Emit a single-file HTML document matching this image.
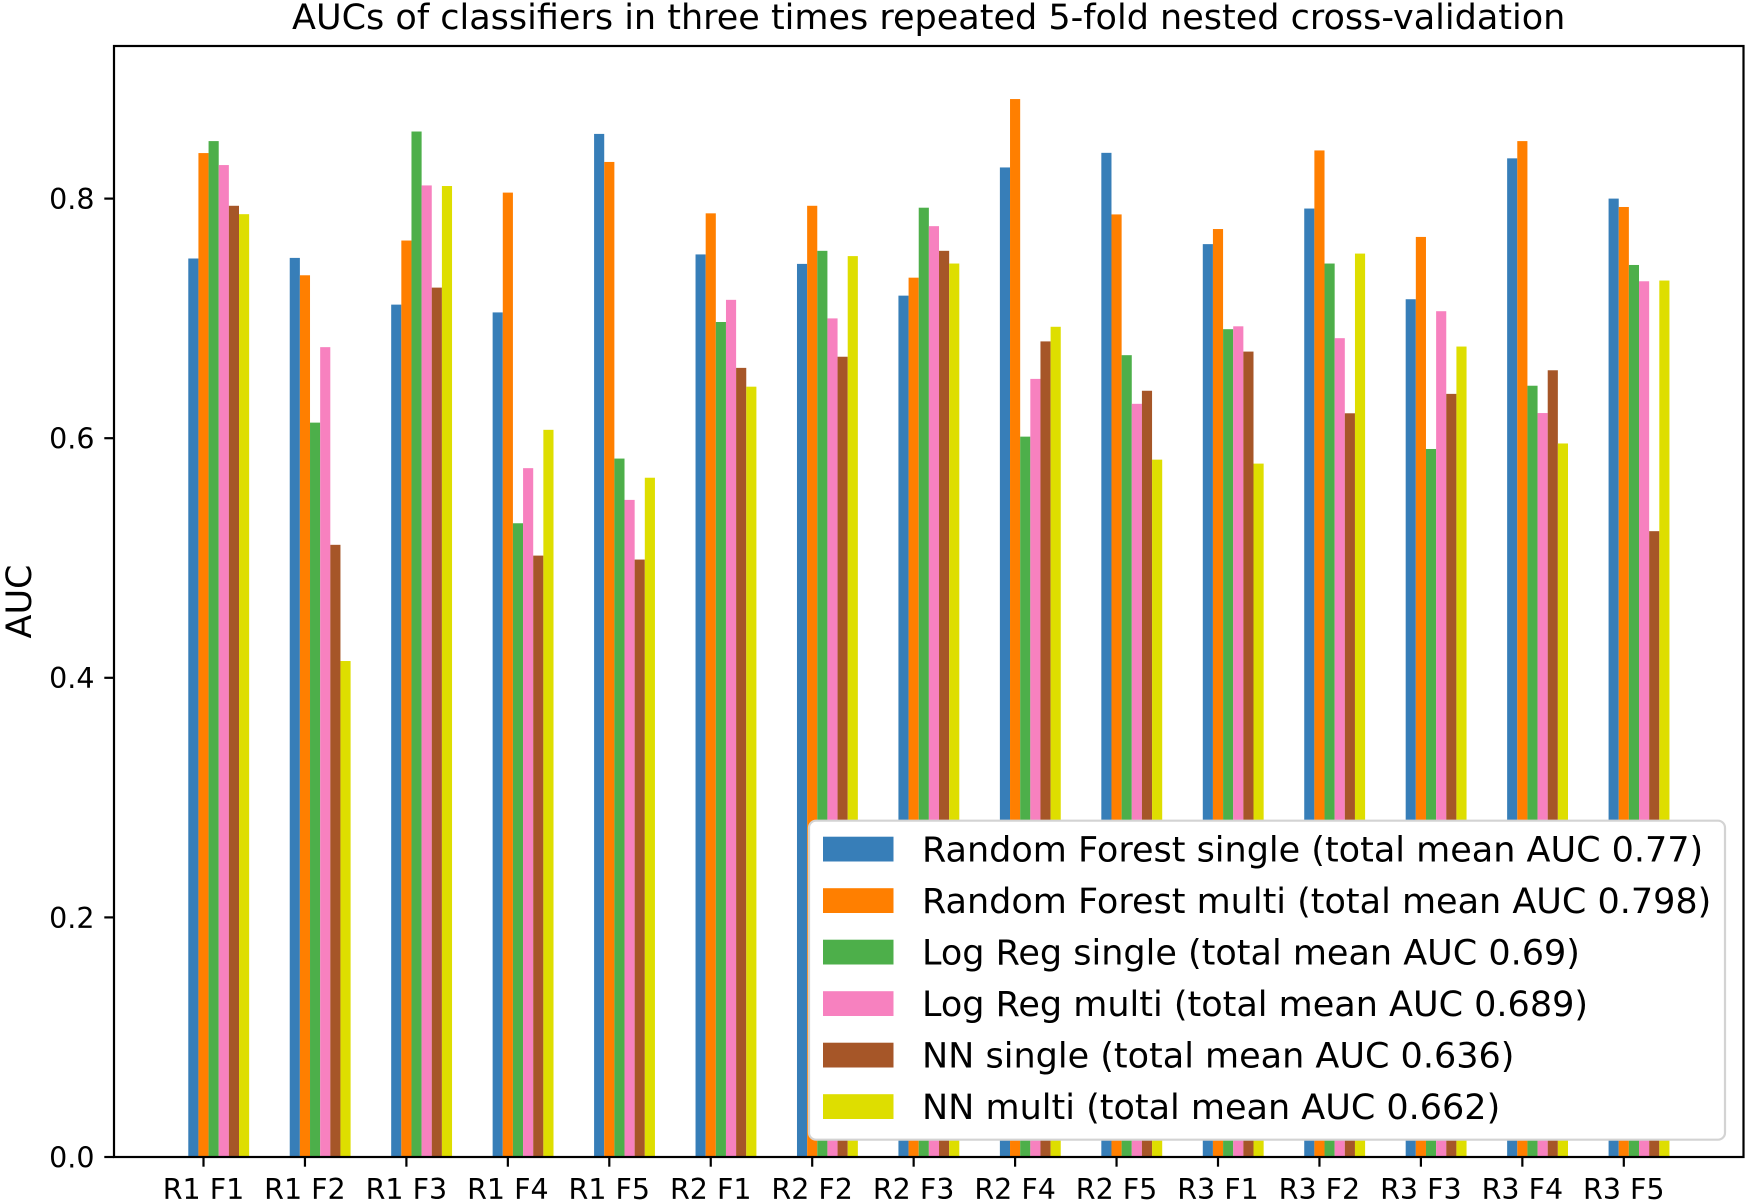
<!DOCTYPE html>
<html>
<head>
<meta charset="utf-8">
<style>
  html, body { margin: 0; padding: 0; background: #ffffff; }
  svg { display: block; }
  text { font-family: "DejaVu Sans", "Liberation Sans", sans-serif; fill: #000; }
</style>
</head>
<body>
<svg width="1748" height="1204" viewBox="0 0 1748 1204" xmlns="http://www.w3.org/2000/svg">
  <rect x="0" y="0" width="1748" height="1204" fill="#ffffff"/>

  <!-- Title -->
  <text x="928.7" y="29" font-size="35" text-anchor="middle">AUCs of classifiers in three times repeated 5-fold nested cross-validation</text>

  <!-- Bars: data coordinates (x = group index, y = AUC) -->
  <g transform="translate(203.5,1157) scale(101.45,-1198)">
    <g fill="#377eb8">
      <rect x="-0.15" y="0" width="0.1" height="0.750"/>
      <rect x="0.85" y="0" width="0.1" height="0.7505"/>
      <rect x="1.85" y="0" width="0.1" height="0.7115"/>
      <rect x="2.85" y="0" width="0.1" height="0.705"/>
      <rect x="3.85" y="0" width="0.1" height="0.854"/>
      <rect x="4.85" y="0" width="0.1" height="0.7534"/>
      <rect x="5.85" y="0" width="0.1" height="0.7455"/>
      <rect x="6.85" y="0" width="0.1" height="0.719"/>
      <rect x="7.85" y="0" width="0.1" height="0.826"/>
      <rect x="8.85" y="0" width="0.1" height="0.8382"/>
      <rect x="9.85" y="0" width="0.1" height="0.762"/>
      <rect x="10.85" y="0" width="0.1" height="0.7917"/>
      <rect x="11.85" y="0" width="0.1" height="0.716"/>
      <rect x="12.85" y="0" width="0.1" height="0.8336"/>
      <rect x="13.85" y="0" width="0.1" height="0.800"/>
    </g>
    <g fill="#ff7f00">
      <rect x="-0.05" y="0" width="0.1" height="0.838"/>
      <rect x="0.95" y="0" width="0.1" height="0.736"/>
      <rect x="1.95" y="0" width="0.1" height="0.765"/>
      <rect x="2.95" y="0" width="0.1" height="0.805"/>
      <rect x="3.95" y="0" width="0.1" height="0.8306"/>
      <rect x="4.95" y="0" width="0.1" height="0.7877"/>
      <rect x="5.95" y="0" width="0.1" height="0.794"/>
      <rect x="6.95" y="0" width="0.1" height="0.734"/>
      <rect x="7.95" y="0" width="0.1" height="0.8831"/>
      <rect x="8.95" y="0" width="0.1" height="0.7868"/>
      <rect x="9.95" y="0" width="0.1" height="0.7746"/>
      <rect x="10.95" y="0" width="0.1" height="0.8402"/>
      <rect x="11.95" y="0" width="0.1" height="0.768"/>
      <rect x="12.95" y="0" width="0.1" height="0.848"/>
      <rect x="13.95" y="0" width="0.1" height="0.793"/>
    </g>
    <g fill="#4daf4a">
      <rect x="0.05" y="0" width="0.1" height="0.848"/>
      <rect x="1.05" y="0" width="0.1" height="0.613"/>
      <rect x="2.05" y="0" width="0.1" height="0.856"/>
      <rect x="3.05" y="0" width="0.1" height="0.529"/>
      <rect x="4.05" y="0" width="0.1" height="0.583"/>
      <rect x="5.05" y="0" width="0.1" height="0.697"/>
      <rect x="6.05" y="0" width="0.1" height="0.7564"/>
      <rect x="7.05" y="0" width="0.1" height="0.7924"/>
      <rect x="8.05" y="0" width="0.1" height="0.6013"/>
      <rect x="9.05" y="0" width="0.1" height="0.6693"/>
      <rect x="10.05" y="0" width="0.1" height="0.691"/>
      <rect x="11.05" y="0" width="0.1" height="0.7458"/>
      <rect x="12.05" y="0" width="0.1" height="0.591"/>
      <rect x="13.05" y="0" width="0.1" height="0.6438"/>
      <rect x="14.05" y="0" width="0.1" height="0.7446"/>
    </g>
    <g fill="#f781bf">
      <rect x="0.15" y="0" width="0.1" height="0.828"/>
      <rect x="1.15" y="0" width="0.1" height="0.676"/>
      <rect x="2.15" y="0" width="0.1" height="0.811"/>
      <rect x="3.15" y="0" width="0.1" height="0.575"/>
      <rect x="4.15" y="0" width="0.1" height="0.5485"/>
      <rect x="5.15" y="0" width="0.1" height="0.7155"/>
      <rect x="6.15" y="0" width="0.1" height="0.700"/>
      <rect x="7.15" y="0" width="0.1" height="0.777"/>
      <rect x="8.15" y="0" width="0.1" height="0.6495"/>
      <rect x="9.15" y="0" width="0.1" height="0.6287"/>
      <rect x="10.15" y="0" width="0.1" height="0.6934"/>
      <rect x="11.15" y="0" width="0.1" height="0.6835"/>
      <rect x="12.15" y="0" width="0.1" height="0.706"/>
      <rect x="13.15" y="0" width="0.1" height="0.621"/>
      <rect x="14.15" y="0" width="0.1" height="0.731"/>
    </g>
    <g fill="#a65628">
      <rect x="0.25" y="0" width="0.1" height="0.794"/>
      <rect x="1.25" y="0" width="0.1" height="0.511"/>
      <rect x="2.25" y="0" width="0.1" height="0.7257"/>
      <rect x="3.25" y="0" width="0.1" height="0.502"/>
      <rect x="4.25" y="0" width="0.1" height="0.4987"/>
      <rect x="5.25" y="0" width="0.1" height="0.6587"/>
      <rect x="6.25" y="0" width="0.1" height="0.668"/>
      <rect x="7.25" y="0" width="0.1" height="0.7564"/>
      <rect x="8.25" y="0" width="0.1" height="0.6808"/>
      <rect x="9.25" y="0" width="0.1" height="0.6396"/>
      <rect x="10.25" y="0" width="0.1" height="0.6723"/>
      <rect x="11.25" y="0" width="0.1" height="0.6208"/>
      <rect x="12.25" y="0" width="0.1" height="0.637"/>
      <rect x="13.25" y="0" width="0.1" height="0.6567"/>
      <rect x="14.25" y="0" width="0.1" height="0.5224"/>
    </g>
    <g fill="#dede00">
      <rect x="0.35" y="0" width="0.1" height="0.787"/>
      <rect x="1.35" y="0" width="0.1" height="0.414"/>
      <rect x="2.35" y="0" width="0.1" height="0.8105"/>
      <rect x="3.35" y="0" width="0.1" height="0.607"/>
      <rect x="4.35" y="0" width="0.1" height="0.567"/>
      <rect x="5.35" y="0" width="0.1" height="0.643"/>
      <rect x="6.35" y="0" width="0.1" height="0.752"/>
      <rect x="7.35" y="0" width="0.1" height="0.7458"/>
      <rect x="8.35" y="0" width="0.1" height="0.693"/>
      <rect x="9.35" y="0" width="0.1" height="0.5821"/>
      <rect x="10.35" y="0" width="0.1" height="0.5788"/>
      <rect x="11.35" y="0" width="0.1" height="0.7541"/>
      <rect x="12.35" y="0" width="0.1" height="0.6765"/>
      <rect x="13.35" y="0" width="0.1" height="0.5956"/>
      <rect x="14.35" y="0" width="0.1" height="0.7316"/>
    </g>
  </g>

  <!-- Axes spines -->
  <rect x="114" y="46" width="1629.5" height="1111" fill="none" stroke="#000" stroke-width="2.2"/>

  <!-- Y ticks -->
  <g stroke="#000" stroke-width="2.2">
    <line x1="104.3" y1="1157" x2="114" y2="1157"/>
    <line x1="104.3" y1="917.4" x2="114" y2="917.4"/>
    <line x1="104.3" y1="677.8" x2="114" y2="677.8"/>
    <line x1="104.3" y1="438.2" x2="114" y2="438.2"/>
    <line x1="104.3" y1="198.6" x2="114" y2="198.6"/>
  </g>
  <g font-size="28.5" text-anchor="end">
    <text x="94.5" y="1167.4">0.0</text>
    <text x="94.5" y="927.8">0.2</text>
    <text x="94.5" y="688.2">0.4</text>
    <text x="94.5" y="448.6">0.6</text>
    <text x="94.5" y="209">0.8</text>
  </g>

  <!-- X ticks -->
  <g stroke="#000" stroke-width="2.2">
    <line x1="203.5" y1="1157" x2="203.5" y2="1166.7"/>
    <line x1="304.95" y1="1157" x2="304.95" y2="1166.7"/>
    <line x1="406.4" y1="1157" x2="406.4" y2="1166.7"/>
    <line x1="507.85" y1="1157" x2="507.85" y2="1166.7"/>
    <line x1="609.3" y1="1157" x2="609.3" y2="1166.7"/>
    <line x1="710.75" y1="1157" x2="710.75" y2="1166.7"/>
    <line x1="812.2" y1="1157" x2="812.2" y2="1166.7"/>
    <line x1="913.65" y1="1157" x2="913.65" y2="1166.7"/>
    <line x1="1015.1" y1="1157" x2="1015.1" y2="1166.7"/>
    <line x1="1116.55" y1="1157" x2="1116.55" y2="1166.7"/>
    <line x1="1218" y1="1157" x2="1218" y2="1166.7"/>
    <line x1="1319.45" y1="1157" x2="1319.45" y2="1166.7"/>
    <line x1="1420.9" y1="1157" x2="1420.9" y2="1166.7"/>
    <line x1="1522.35" y1="1157" x2="1522.35" y2="1166.7"/>
    <line x1="1623.8" y1="1157" x2="1623.8" y2="1166.7"/>
  </g>
  <g font-size="28.5" text-anchor="middle">
    <text x="203.5" y="1198.8">R1 F1</text>
    <text x="304.95" y="1198.8">R1 F2</text>
    <text x="406.4" y="1198.8">R1 F3</text>
    <text x="507.85" y="1198.8">R1 F4</text>
    <text x="609.3" y="1198.8">R1 F5</text>
    <text x="710.75" y="1198.8">R2 F1</text>
    <text x="812.2" y="1198.8">R2 F2</text>
    <text x="913.65" y="1198.8">R2 F3</text>
    <text x="1015.1" y="1198.8">R2 F4</text>
    <text x="1116.55" y="1198.8">R2 F5</text>
    <text x="1218" y="1198.8">R3 F1</text>
    <text x="1319.45" y="1198.8">R3 F2</text>
    <text x="1420.9" y="1198.8">R3 F3</text>
    <text x="1522.35" y="1198.8">R3 F4</text>
    <text x="1623.8" y="1198.8">R3 F5</text>
  </g>

  <!-- Y label -->
  <text x="0" y="0" font-size="35" text-anchor="middle" transform="translate(31,601.5) rotate(-90)">AUC</text>

  <!-- Legend -->
  <rect x="809" y="820.7" width="916" height="319" rx="7" ry="7" fill="#ffffff" stroke="#d3d3d3" stroke-width="2.2"/>
  <rect x="823" y="836.7" width="70.5" height="24.8" fill="#377eb8"/>
  <rect x="823" y="888.2" width="70.5" height="24.8" fill="#ff7f00"/>
  <rect x="823" y="939.7" width="70.5" height="24.8" fill="#4daf4a"/>
  <rect x="823" y="991.2" width="70.5" height="24.8" fill="#f781bf"/>
  <rect x="823" y="1042.7" width="70.5" height="24.8" fill="#a65628"/>
  <rect x="823" y="1094.2" width="70.5" height="24.8" fill="#dede00"/>
  <g font-size="35">
    <text x="922" y="861.5">Random Forest single (total mean AUC 0.77)</text>
    <text x="922" y="913">Random Forest multi (total mean AUC 0.798)</text>
    <text x="922" y="964.5">Log Reg single (total mean AUC 0.69)</text>
    <text x="922" y="1016">Log Reg multi (total mean AUC 0.689)</text>
    <text x="922" y="1067.5">NN single (total mean AUC 0.636)</text>
    <text x="922" y="1119">NN multi (total mean AUC 0.662)</text>
  </g>
</svg>
</body>
</html>
